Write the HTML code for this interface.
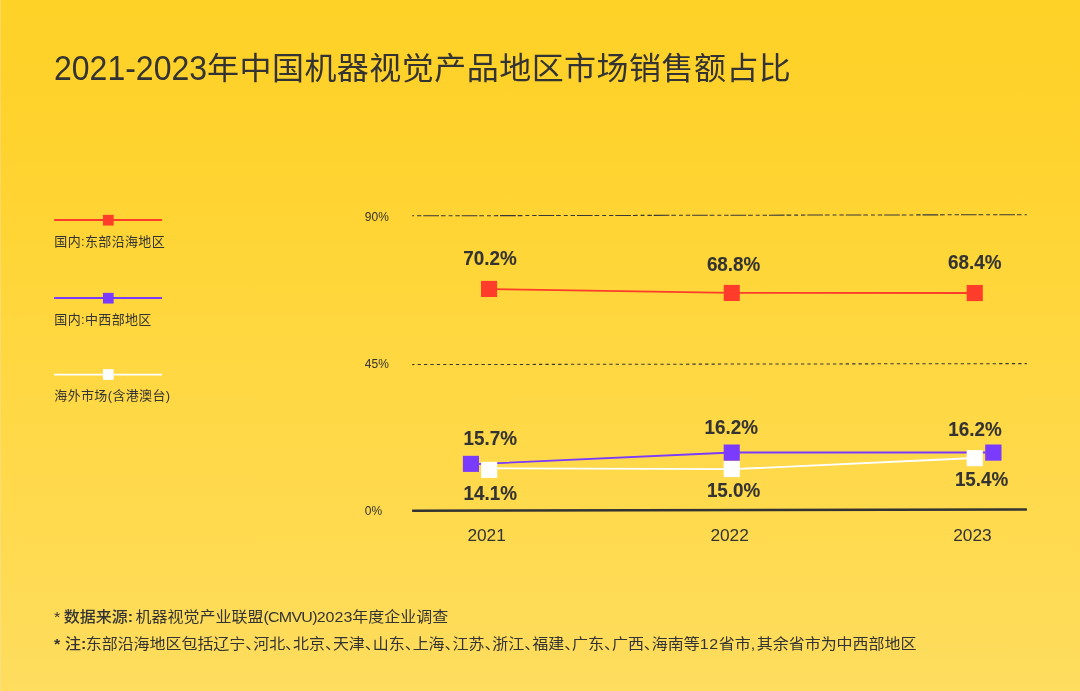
<!DOCTYPE html>
<html lang="zh-CN">
<head>
<meta charset="utf-8">
<title>2021-2023年中国机器视觉产品地区市场销售额占比</title>
<style>
*{margin:0;padding:0;box-sizing:border-box}
html,body{width:1080px;height:691px;overflow:hidden}
body{position:relative;background:linear-gradient(to bottom,#ffd228 0%,#ffd22b 12.5%,#ffd330 25%,#ffd638 37.5%,#ffd740 50%,#ffda4e 75%,#fedd5f 100%);color:#333;font-family:"Liberation Sans","Noto Sans CJK SC",sans-serif}
.edge{position:absolute;left:0;top:0;width:1px;height:691px;background:rgba(228,228,224,.3)}
h1{position:absolute;left:54px;top:45px;font-size:32px;line-height:48px;font-weight:400;white-space:nowrap;color:#333;letter-spacing:.46px;transform:scaleY(.975);transform-origin:0 17%}
h1 .n{display:inline-block;position:relative;top:1px;letter-spacing:0;transform:scaleY(1.14);transform-origin:50% 76%}
.lt{position:absolute;left:54.3px;font-size:13px;line-height:20px;white-space:nowrap;color:#333;letter-spacing:.35px}
svg{position:absolute;left:0;top:0}
.yl{position:absolute;left:364.8px;font-size:12px;line-height:14px;color:#333;white-space:nowrap;transform:scaleY(1.04);transform-origin:0 82%}
.xl{position:absolute;top:525px;font-size:17.3px;line-height:20px;color:#333;white-space:nowrap}
.vl{position:absolute;font-size:18.85px;line-height:20px;font-weight:700;color:#333;white-space:nowrap;transform:scaleY(1.07);transform-origin:0 82%;-webkit-text-stroke:.1px #333}
.note{position:absolute;left:53.5px;font-size:16px;line-height:24px;white-space:nowrap;color:#333;transform:scaleY(.94);transform-origin:0 0}
.note b{font-weight:500}
.note .k{font-weight:700}
.h{font-feature-settings:"halt"}
.n2{letter-spacing:-.05px}
.c{margin-right:2.4px}
.c2{margin-right:-.6px}
.s1{margin-left:.5px;margin-right:-1px}
.s2{margin-left:.5px;margin-right:.5px}
.e{letter-spacing:-.75px}
.d{letter-spacing:.7px}
.m{margin-right:1.7px}
</style>
</head>
<body>
<div class="edge"></div>
<h1><span class="n">2021-2023</span>年中国机器视觉产品地区市场销售额占比</h1>

<div class="lt" style="top:232px">国内:东部沿海地区</div>
<div class="lt" style="top:310px">国内:中西部地区</div>
<div class="lt" style="top:386px">海外市场(含港澳台)</div>

<svg width="1080" height="691" viewBox="0 0 1080 691">
  <line x1="412.2" y1="215.8" x2="1026.8" y2="214.7" stroke="#383838" stroke-width="1.05" stroke-dasharray="15.7 1.9 4.7 3 3.9 2.9 4.4 1.9" stroke-dashoffset="27.3"/>
  <line x1="412.2" y1="364.6" x2="1026.8" y2="363.6" stroke="#383838" stroke-width="1.05" stroke-dasharray="3.3 3.09" stroke-dashoffset="1.0"/>
  <line x1="412.1" y1="510.75" x2="1026.9" y2="509.55" stroke="#333" stroke-width="2.55"/>
  <polyline points="489,289.1 732,292.9 975,293" fill="none" stroke="#ff3d2a" stroke-width="1.8"/>
  <polyline points="471,464.4 732,452.5 993,452.5" fill="none" stroke="#7a3bff" stroke-width="1.8"/>
  <polyline points="489,468.3 732,469.2 975,458" fill="none" stroke="#fff" stroke-width="1.8"/>
  <rect x="481" y="280.9" width="16.1" height="16.1" fill="#ff3d2a"/>
  <rect x="723.7" y="284.9" width="16.1" height="16.1" fill="#ff3d2a"/>
  <rect x="966.7" y="285" width="16.1" height="16.1" fill="#ff3d2a"/>
  <rect x="462.9" y="455.8" width="16.1" height="16.1" fill="#7a3bff"/>
  <rect x="723.7" y="444.5" width="16.1" height="16.2" fill="#7a3bff"/>
  <rect x="985.2" y="444.5" width="16.3" height="16.2" fill="#7a3bff"/>
  <rect x="481.1" y="461.8" width="16.1" height="16.1" fill="#fff"/>
  <rect x="723.7" y="461" width="16.1" height="16.1" fill="#fff"/>
  <rect x="966.7" y="450.1" width="16.1" height="16.1" fill="#fff"/>
  <line x1="54.1" y1="220" x2="162.1" y2="220" stroke="#ff3d2a" stroke-width="1.8"/>
  <rect x="102.95" y="214.85" width="10.7" height="10.7" fill="#ff3d2a"/>
  <line x1="54.1" y1="298" x2="162.1" y2="298" stroke="#7a3bff" stroke-width="1.8"/>
  <rect x="102.95" y="292.85" width="10.7" height="10.7" fill="#7a3bff"/>
  <line x1="54.1" y1="374.7" x2="162.1" y2="374.7" stroke="#fff" stroke-width="1.8"/>
  <rect x="102.95" y="369.15" width="10.7" height="10.7" fill="#fff"/>
</svg>

<div class="yl" style="top:210px">90%</div>
<div class="yl" style="top:357px">45%</div>
<div class="yl" style="top:504px">0%</div>

<div class="xl" style="left:467.4px">2021</div>
<div class="xl" style="left:710.4px">2022</div>
<div class="xl" style="left:953.2px">2023</div>

<div class="vl" style="left:463.3px;top:249px">70.2%</div>
<div class="vl" style="left:706.9px;top:255px">68.8%</div>
<div class="vl" style="left:948.0px;top:253px">68.4%</div>
<div class="vl" style="left:463.6px;top:429px">15.7%</div>
<div class="vl" style="left:704.6px;top:418px">16.2%</div>
<div class="vl" style="left:948.3px;top:420px">16.2%</div>
<div class="vl" style="left:463.6px;top:484px">14.1%</div>
<div class="vl" style="left:706.9px;top:481px">15.0%</div>
<div class="vl" style="left:954.9px;top:470px">15.4%</div>

<div class="note" style="top:606.1px"><span class="s1">*</span> <b>数据来源</b><span class="k c">:</span>机器视觉产业联盟<span class="e">(CMVU)</span>2023年度企业调查</div>
<div class="note n2" style="top:633.2px"><span class="k s2">*</span> <b>注</b><span class="k c2">:</span>东部沿海地区包括辽宁<span class="h">、</span>河北<span class="h">、</span>北京<span class="h">、</span>天津<span class="h">、</span>山东<span class="h">、</span>上海<span class="h">、</span>江苏<span class="h">、</span>浙江<span class="h">、</span>福建<span class="h">、</span>广东<span class="h">、</span>广西<span class="h">、</span>海南等<span class="d">12</span>省市<span class="m">,</span>其余省市为中西部地区</div>
</body>
</html>
